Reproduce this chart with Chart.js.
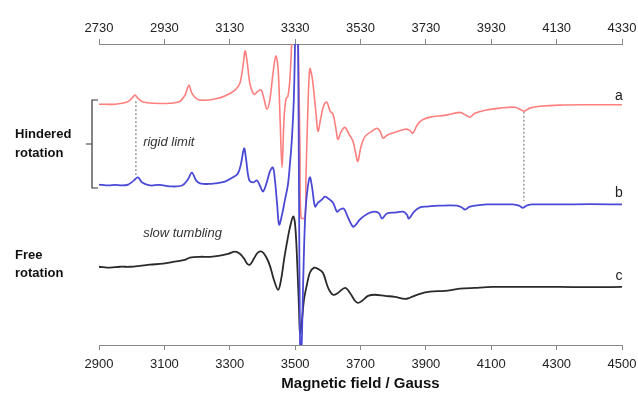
<!DOCTYPE html>
<html>
<head>
<meta charset="utf-8">
<script src="https://cdn.jsdelivr.net/npm/chart.js@4"></script>
<style>
  html, body { margin: 0; padding: 0; background: #fff; }
  #wrap { width: 638px; height: 394px; }
</style>
</head>
<body>
<div id="wrap"><canvas id="epr" width="638" height="394"></canvas></div>
<script>
// tick labels for the two field axes
const bottomTicks = [2900, 3100, 3300, 3500, 3700, 3900, 4100, 4300, 4500];
const topTicks = [2730, 2930, 3130, 3330, 3530, 3730, 3930, 4130, 4330];

// trace a (hindered, top axis) - field in G, signal in arbitrary offset units
const traceA = [
  [2730,80.0],[2779,80.0],[2816,80.7],[2831,82.0],[2840,83.0],[2849,82.0],[2865,80.7],[2901,80.3],
  [2947,80.3],[2978,81.0],[2993,83.0],[3005,86.3],[3014,83.7],[3030,81.7],[3054,81.3],[3085,81.7],
  [3115,82.7],[3146,84.7],[3161,87.0],[3171,93.0],[3177,97.7],[3183,94.3],[3192,86.7],[3204,83.3],
  [3216,84.3],[3226,84.7],[3235,81.7],[3244,78.3],[3253,81.7],[3262,90.0],[3271,96.0],[3278,91.7],
  [3284,75.0],[3290,59.0],[3296,75.0],[3302,81.7],[3308,82.7],[3314,88.3],[3320,101.7],[3327,118],
  [3333,125],[3339,101.7],[3345,65],[3348,42.3],[3360,42.3],[3363,55],[3369,78.3],[3375,91.7],
  [3382,89],[3388,83.3],[3394,76.7],[3400,71],[3409,75.7],[3418,79.7],[3427,80.7],[3437,77.7],
  [3446,76.7],[3455,71.7],[3461,68.3],[3470,70.7],[3482,72.3],[3495,70],[3507,67.7],[3516,63.3],
  [3522,61],[3531,65.7],[3544,69.3],[3565,71],[3580,72],[3590,71],[3599,68.7],[3611,69.7],
  [3636,70.7],[3666,71.7],[3681,71.3],[3690,70.3],[3703,73],[3718,74.7],[3743,75.7],[3788,76.3],
  [3834,77.3],[3853,76.3],[3865,75.7],[3880,77],[3911,78],[3957,78.7],[4003,79],[4018,78.3],
  [4030,77.7],[4048,78.7],[4079,79.3],[4140,79.7],[4232,79.8],[4330,79.8]
];

// trace b (hindered, bottom axis)
const traceB = [
  [2900,53.3],[2930,53.0],[2949,53.2],[2970,53.0],[2989,53.3],[3007,54.7],[3019,55.7],[3032,54],
  [3056,53],[3085,53.2],[3117,52.7],[3154,53],[3172,55],[3184,57.3],[3197,54.7],[3209,53.7],
  [3235,53.5],[3255,53.7],[3285,54.3],[3310,55.7],[3325,57],[3334,60],[3344,65.3],[3350,61.7],
  [3359,55],[3371,54],[3383,54.7],[3392,53],[3402,51],[3414,54.3],[3423,57.7],[3432,59],
  [3438,55],[3445,46.7],[3451,40],[3460,43.3],[3469,48.3],[3478,53.3],[3484,60],[3490,68.3],
  [3496,81.7],[3500,101.7],[3503,125],[3506,125],[3509,101.7],[3512,48.3],[3515,0],[3517,-3],
  [3520,0],[3524,18.3],[3530,40.7],[3536,50],[3545,55.7],[3552,52.3],[3561,46],[3570,47.3],
  [3582,48.3],[3591,49.3],[3601,48.7],[3616,47.3],[3628,44.3],[3637,45],[3649,45.3],[3662,42.3],
  [3677,39.3],[3686,40],[3698,41.7],[3723,43.7],[3744,44.3],[3757,43.7],[3766,42],[3781,43.7],
  [3806,44],[3830,44.3],[3842,43.3],[3848,42],[3864,44.3],[3882,45.7],[3903,46],[3943,46.3],
  [3995,46.3],[4010,45.7],[4020,45],[4035,46],[4087,46.7],[4127,46.7],[4166,46.7],[4185,46.3],
  [4197,45.6],[4210,46.4],[4228,46.7],[4310,46.7],[4402,46.8],[4500,46.7]
];

// trace c (free rotation, bottom axis)
const traceC = [
  [2900,26],[2934,25.7],[2964,26],[2995,26],[3025,26.3],[3056,26.7],[3096,27],[3132,27.7],
  [3163,28.3],[3178,29],[3209,29.3],[3240,29.3],[3270,29.7],[3295,30.3],[3316,31],[3331,30.3],
  [3344,28.7],[3353,27],[3362,26.7],[3374,28.7],[3386,30.7],[3399,31],[3411,29.3],[3423,26.3],
  [3435,21.7],[3448,18.3],[3457,21.7],[3466,28.3],[3475,34],[3484,39],[3494,42.7],[3500,40],
  [3506,28.3],[3512,11.7],[3515,4],[3521,8.3],[3527,15],[3536,20],[3545,24],[3558,25.7],
  [3570,25.3],[3585,24],[3601,19],[3616,16.7],[3631,17.3],[3653,19],[3668,17.3],[3683,14.7],
  [3692,14],[3705,14.7],[3723,16.3],[3744,16.7],[3775,16.3],[3805,16],[3836,15.3],[3851,15.7],
  [3882,17],[3913,17.7],[3958,18],[4004,18.7],[4050,19],[4105,19.3],[4157,19.3],[4218,19.3],
  [4310,19.3],[4402,19.2],[4500,19.3]
];

// dashed guides (bottom field, signal from/to)
const rigidGuide = [[3013,81],[3013,56.5]];
const rightGuide = [[4200,77.5],[4200,47.8]];

const pts = arr => arr.map(p => ({ x: p[0], y: p[1] }));
const FONT = '"Liberation Sans", Arial, sans-serif';

const labelsPlugin = {
  id: 'labels',
  afterDraw(chart) {
    const c = chart.ctx;
    const x = chart.scales.x, y = chart.scales.y;
    c.save();
    c.fillStyle = '#222';
    c.textBaseline = 'middle';
    c.textAlign = 'center';
    c.font = '14px ' + FONT;
    c.fillText('a', 619, 96);
    c.fillText('b', 619, 193);
    c.fillText('c', 619, 276);

    c.fillStyle = '#333';
    c.font = 'italic 13px ' + FONT;
    c.textAlign = 'left';
    c.fillText('rigid limit', x.getPixelForValue(3035), y.getPixelForValue(67.3));
    c.fillText('slow tumbling', x.getPixelForValue(3035), y.getPixelForValue(37));

    c.fillStyle = '#111';
    c.font = 'bold 13px ' + FONT;
    c.fillText('Hindered', 15, 134);
    c.fillText('rotation', 15, 153);
    c.fillText('Free', 15, 255);
    c.fillText('rotation', 15, 273);

    // bracket
    c.strokeStyle = '#333';
    c.lineWidth = 1.2;
    c.beginPath();
    c.moveTo(98, 100); c.lineTo(92, 100); c.lineTo(92, 188); c.lineTo(98, 188);
    c.moveTo(92, 144); c.lineTo(86, 144);
    c.stroke();
    c.restore();
  }
};

const tickFont = { family: FONT, size: 13 };
const noEdgePad = s => { s.paddingLeft = 0; s.paddingRight = 0; };

new Chart(document.getElementById('epr'), {
  type: 'line',
  data: {
    datasets: [
      { data: pts(traceB), xAxisID: 'x', borderColor: '#4a4ad6', borderWidth: 1.8 },
      { data: pts(traceC), xAxisID: 'x', borderColor: '#2a2a2a', borderWidth: 1.8 },
      { data: pts(traceA), xAxisID: 'x2', borderColor: '#ff7f7f', borderWidth: 1.6 },
      { data: pts(rigidGuide), xAxisID: 'x', borderColor: '#444', borderWidth: 0.8, borderDash: [2, 2], tension: 0 },
      { data: pts(rightGuide), xAxisID: 'x', borderColor: '#444', borderWidth: 0.8, borderDash: [2, 2], tension: 0 }
    ]
  },
  options: {
    responsive: false,
    animation: false,
    events: [],
    layout: { padding: { left: 99, right: 16, top: 0, bottom: 0 } },
    elements: {
      point: { radius: 0 },
      line: { tension: 0.35, fill: false }
    },
    plugins: { legend: { display: false }, tooltip: { enabled: false } },
    scales: {
      x: {
        type: 'linear', position: 'bottom', min: 2900, max: 4500,
        afterBuildTicks: s => { s.ticks = bottomTicks.map(v => ({ value: v })); },
        afterFit: s => { s.height = 49; noEdgePad(s); },
        grid: { drawOnChartArea: false, drawTicks: true, tickLength: 5, color: '#888' },
        border: { display: true, color: '#888', width: 1 },
        ticks: { color: '#222', font: tickFont, padding: 7, maxRotation: 0, callback: v => String(v) },
        title: { display: true, text: 'Magnetic field / Gauss', color: '#111',
                 font: { family: FONT, size: 15, weight: 'bold' }, padding: { top: 0, bottom: 1 } }
      },
      x2: {
        type: 'linear', position: 'top', min: 2730, max: 4330,
        afterBuildTicks: s => { s.ticks = topTicks.map(v => ({ value: v })); },
        afterFit: s => { s.height = 44; noEdgePad(s); },
        grid: { drawOnChartArea: false, drawTicks: true, tickLength: 5, color: '#888' },
        border: { display: true, color: '#888', width: 1 },
        ticks: { color: '#222', font: tickFont, padding: 3, maxRotation: 0, callback: v => String(v) }
      },
      y: { type: 'linear', display: false, min: 0, max: 100 }
    }
  },
  plugins: [labelsPlugin]
});
</script>
</body>
</html>
